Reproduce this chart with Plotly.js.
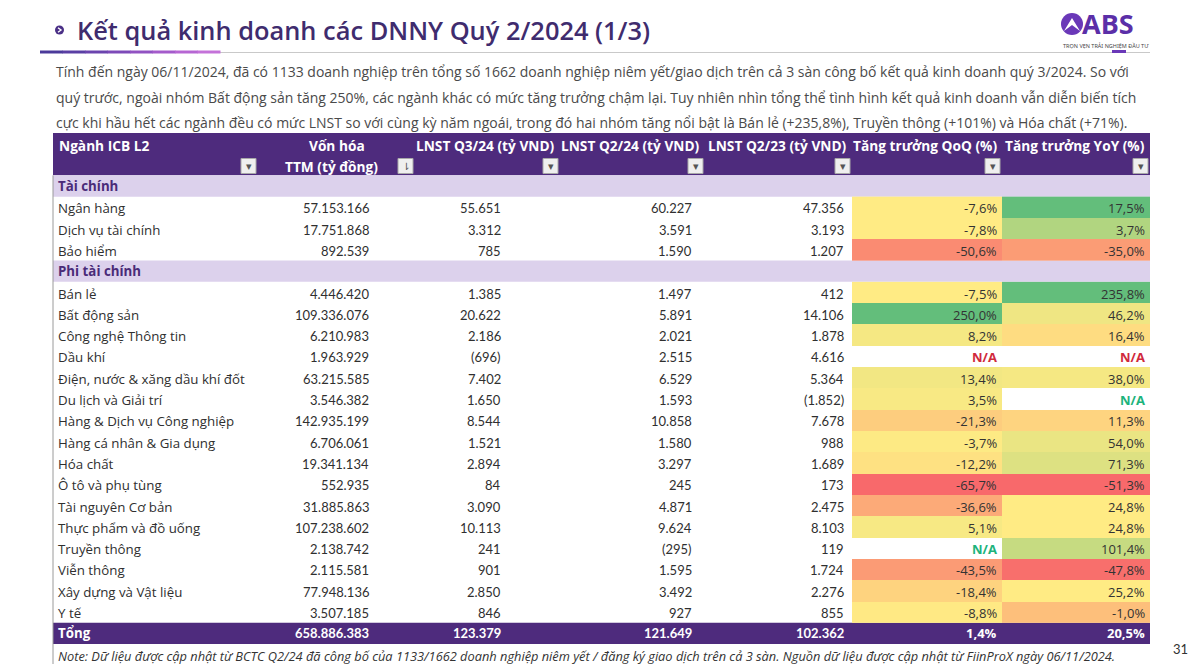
<!DOCTYPE html>
<html>
<head>
<meta charset="utf-8">
<script src="https://cdn.plot.ly/plotly-3.0.1.min.js"></script>
<style>
  html, body { margin: 0; padding: 0; background: #ffffff; }
  #chart { width: 1200px; height: 669px; }
</style>
</head>
<body>
<div id="chart"></div>
<script>
// ---------------- DATA ----------------
const sectionLabels = ["Tài chính", "Phi tài chính"];
const finSectors = ["Ngân hàng", "Dịch vụ tài chính", "Bảo hiểm"];
const nonFinSectors = [
  "Bán lẻ", "Bất động sản", "Công nghệ Thông tin", "Dầu khí",
  "Điện, nước & xăng dầu khí đốt", "Du lịch và Giải trí", "Hàng & Dịch vụ Công nghiệp",
  "Hàng cá nhân & Gia dụng", "Hóa chất", "Ô tô và phụ tùng", "Tài nguyên Cơ bản",
  "Thực phẩm và đồ uống", "Truyền thông", "Viễn thông", "Xây dựng và Vật liệu", "Y tế"
];
// values in order: finSectors then nonFinSectors
const marketCap = [57153166, 17751868, 892539,
  4446420, 109336076, 6210983, 1963929, 63215585, 3546382, 142935199, 6706061,
  19341134, 552935, 31885863, 107238602, 2138742, 2115581, 77948136, 3507185];
const npatQ324 = [55651, 3312, 785,
  1385, 20622, 2186, -696, 7402, 1650, 8544, 1521, 2894, 84, 3090, 10113, 241, 901, 2850, 846];
const npatQ224 = [60227, 3591, 1590,
  1497, 5891, 2021, 2515, 6529, 1593, 10858, 1580, 3297, 245, 4871, 9624, -295, 1595, 3492, 927];
const npatQ223 = [47356, 3193, 1207,
  412, 14106, 1878, 4616, 5364, -1852, 7678, 988, 1689, 173, 2475, 8103, 119, 1724, 2276, 855];
const growthQoQ = [-7.6, -7.8, -50.6,
  -7.5, 250.0, 8.2, null, 13.4, 3.5, -21.3, -3.7, -12.2, -65.7, -36.6, 5.1, null, -43.5, -18.4, -8.8];
const growthYoY = [17.5, 3.7, -35.0,
  235.8, 46.2, 16.4, null, 38.0, null, 11.3, 54.0, 71.3, -51.3, 24.8, 24.8, 101.4, -47.8, 25.2, -1.0];
const totalLabel = "Tổng";
const totals = { cap: 658886383, q324: 123379, q224: 121649, q223: 102362, qoq: 1.4, yoy: 20.5 };

const headers = ["Ngành ICB L2", "Vốn hóa", "LNST Q3/24 (tỷ VND)", "LNST Q2/24 (tỷ VND)",
                 "LNST Q2/23 (tỷ VND)", "Tăng trưởng QoQ (%)", "Tăng trưởng YoY (%)"];
const header2 = "TTM (tỷ đồng)";

const titleText = "Kết quả kinh doanh các DNNY Quý 2/2024 (1/3)";
const introLines = [
  "Tính đến ngày 06/11/2024, đã có 1133 doanh nghiệp trên tổng số 1662 doanh nghiệp niêm yết/giao dịch trên cả 3 sàn công bố kết quả kinh doanh quý 3/2024. So với",
  "quý trước, ngoài nhóm Bất động sản tăng 250%, các ngành khác có mức tăng trưởng chậm lại. Tuy nhiên nhìn tổng thể tình hình kết quả kinh doanh vẫn diễn biến tích",
  "cực khi hầu hết các ngành đều có mức LNST so với cùng kỳ năm ngoái, trong đó hai nhóm tăng nổi bật là Bán lẻ (+235,8%), Truyền thông (+101%) và Hóa chất (+71%)."
];
const noteText = "Note: Dữ liệu được cập nhật từ BCTC Q2/24 đã công bố của 1133/1662 doanh nghiệp niêm yết / đăng ký giao dịch trên cả 3 sàn. Nguồn dữ liệu được cập nhật từ FiinProX ngày 06/11/2024.";
const pageNumber = "31";

// ---------------- STYLE / LAYOUT ----------------
const W = 1200, H = 669;
const ROW0_PX = 186, ROW_H = 21.3;          // pixel centre of first row, row height
const yu = p => (p - ROW0_PX) / ROW_H;       // pixel -> row units
const py = p => 1 - p / H;                   // pixel -> paper y
const colEdges = [53, 258, 415, 560, 705, 852, 1002, 1150];
const valueRight = [null, 371, 503, 694, 846, 999, 1147];
const PURPLE = "#4E2B7D", LAVENDER = "#DCD1EC", TITLE_PURPLE = "#3F2C6E";
const RED = "#F8696B", YELLOW = "#FFEB84", GREEN = "#63BE7B";
const NA_RED = "#D02A3C", NA_GREEN = "#1DB37C";
const FONT = "Lato, 'Open Sans', sans-serif";
const OPEN = "'Open Sans', sans-serif";

// row indices
const finRows = finSectors.map((_, j) => 1 + j);
const nonFinRows = nonFinSectors.map((_, j) => 5 + j);
const sectionRows = [0, 4];
const totalRow = 5 + nonFinSectors.length;
const allRows = finRows.concat(nonFinRows);
const allNames = finSectors.concat(nonFinSectors);

const fmtNum = n => {
  const s = Math.abs(n).toString().replace(/\B(?=(\d{3})+(?!\d))/g, ".");
  return n < 0 ? "(" + s + ")" : s;
};
const fmtPct = v => v.toFixed(1).replace(".", ",") + "%";

const shapes = [], annotations = [], traces = [];

// header band
shapes.push({type: "rect", xref: "x", yref: "y", x0: colEdges[0], x1: colEdges[7],
  y0: yu(133), y1: -0.5, fillcolor: PURPLE, line: {width: 0}, layer: "below"});
// section bands
sectionRows.forEach(r => shapes.push({type: "rect", xref: "x", yref: "y", x0: colEdges[0], x1: colEdges[7],
  y0: r - 0.5, y1: r + 0.5, fillcolor: LAVENDER, line: {width: 0}, layer: "below"}));
// total band
shapes.push({type: "rect", xref: "x", yref: "y", x0: colEdges[0], x1: colEdges[7],
  y0: totalRow - 0.5, y1: totalRow + 0.5, fillcolor: PURPLE, line: {width: 0}, layer: "below"});
// left border
shapes.push({type: "line", xref: "x", yref: "y", x0: colEdges[0], x1: colEdges[0],
  y0: -0.5, y1: yu(664), line: {color: "#9A9A9A", width: 1}});

// filter buttons in header
for (let c = 0; c < 7; c++) {
  const bx1 = colEdges[c + 1] - 2, bx0 = bx1 - 15;
  shapes.push({type: "rect", xref: "x", yref: "y", x0: bx0, x1: bx1, y0: yu(158.5), y1: yu(173.5),
    fillcolor: "#EFEFEF", line: {color: "#A8A8A8", width: 1}});
  annotations.push({xref: "x", yref: "y", x: (bx0 + bx1) / 2, y: yu(166.5), text: c === 1 ? "⇂" : "▾",
    showarrow: false, font: {family: "DejaVu Sans", size: c === 1 ? 10 : 11, color: "#555"},
    xanchor: "center", yanchor: "middle"});
}

// header texts
const HF = {family: OPEN, size: 13.7, color: "#fff"};
annotations.push({xref: "x", yref: "y", x: 57, y: yu(145), text: "<b>" + headers[0] + "</b>",
  showarrow: false, xanchor: "left", yanchor: "middle", font: HF});
annotations.push({xref: "x", yref: "y", x: 337, y: yu(145), text: "<b>" + headers[1] + "</b>",
  showarrow: false, xanchor: "center", yanchor: "middle", font: HF});
annotations.push({xref: "x", yref: "y", x: 331, y: yu(166), text: "<b>" + header2 + "</b>",
  showarrow: false, xanchor: "center", yanchor: "middle", font: HF});
for (let c = 2; c < 7; c++) {
  annotations.push({xref: "x", yref: "y", x: colEdges[c + 1] - 3, y: yu(145), text: "<b>" + headers[c] + "</b>",
    showarrow: false, xanchor: "right", yanchor: "middle", font: HF});
}

// section labels
sectionRows.forEach((r, k) => annotations.push({xref: "x", yref: "y", x: 56, y: r, text: "<b>" + sectionLabels[k] + "</b>",
  showarrow: false, xanchor: "left", yanchor: "middle", font: {family: OPEN, size: 13.3, color: "#4A2B78"}}));

// body rows
const BODY = "#2f2f2f";
allRows.forEach((r, i) => {
  const cell = (c, txt, color, fam) => annotations.push({xref: "x", yref: "y", x: valueRight[c], y: r + 0.05,
    text: txt, showarrow: false, xanchor: "right", yanchor: "middle",
    font: {family: fam || FONT, size: 13, color: color || BODY}});
  annotations.push({xref: "x", yref: "y", x: 56, y: r + 0.05, text: allNames[i], showarrow: false,
    xanchor: "left", yanchor: "middle", font: {family: OPEN, size: 13.3, color: BODY}});
  cell(1, fmtNum(marketCap[i]));
  cell(2, fmtNum(npatQ324[i]));
  cell(3, fmtNum(npatQ224[i]));
  cell(4, fmtNum(npatQ223[i]));
  const naCol = npatQ324[i] < 0 ? NA_RED : NA_GREEN;
  if (growthQoQ[i] === null) cell(5, "<b>N/A</b>", naCol, OPEN);
  else cell(5, fmtPct(growthQoQ[i]), "#333", OPEN);
  if (growthYoY[i] === null) cell(6, "<b>N/A</b>", naCol, OPEN);
  else cell(6, fmtPct(growthYoY[i]), "#333", OPEN);
});

// total row
const totTexts = [fmtNum(totals.cap), fmtNum(totals.q324), fmtNum(totals.q224), fmtNum(totals.q223),
                  fmtPct(totals.qoq), fmtPct(totals.yoy)];
annotations.push({xref: "x", yref: "y", x: 56, y: totalRow, text: "<b>" + totalLabel + "</b>", showarrow: false,
  xanchor: "left", yanchor: "middle", font: {family: OPEN, size: 13.3, color: "#fff"}});
totTexts.forEach((t, k) => annotations.push({xref: "x", yref: "y", x: valueRight[k + 1], y: totalRow,
  text: "<b>" + t + "</b>", showarrow: false, xanchor: "right", yanchor: "middle",
  font: {family: k >= 4 ? OPEN : FONT, size: 13, color: "#fff"}}));

// colour-scale cells (heatmaps)
const median = arr => { const s = arr.filter(v => v !== null).sort((a, b) => a - b);
  const m = Math.floor(s.length / 2); return s.length % 2 ? s[m] : (s[m - 1] + s[m]) / 2; };
const minOf = arr => Math.min(...arr.filter(v => v !== null));
const maxOf = arr => Math.max(...arr.filter(v => v !== null));
function heat(x0, x1, rows, vals, lo, mid, hi) {
  const m = (mid - lo) / (hi - lo);
  traces.push({type: "heatmap", x: [x0, x1], y: rows.map(r => r - 0.5).concat([rows[rows.length - 1] + 0.5]),
    z: vals.map(v => [v]), zmin: lo, zmax: hi, showscale: false, hoverinfo: "skip",
    colorscale: [[0, RED], [m, YELLOW], [1, GREEN]]});
}
const nF = finSectors.length;
const qoqAll = growthQoQ;
heat(colEdges[5], colEdges[6], finRows, growthQoQ.slice(0, nF), minOf(qoqAll), median(qoqAll), maxOf(qoqAll));
heat(colEdges[5], colEdges[6], nonFinRows, growthQoQ.slice(nF), minOf(qoqAll), median(qoqAll), maxOf(qoqAll));
const yoyNon = growthYoY.slice(nF), yoyFin = growthYoY.slice(0, nF);
heat(colEdges[6], colEdges[7], finRows, yoyFin, minOf(growthYoY), -10, maxOf(yoyFin));
heat(colEdges[6], colEdges[7], nonFinRows, yoyNon, minOf(yoyNon), median(yoyNon), maxOf(yoyNon));

// ---------------- HEADER AREA (title, intro, logo) ----------------
// title bullet
shapes.push({type: "circle", xref: "x", yref: "paper", x0: 55, x1: 64, y0: py(34.5), y1: py(25.5),
  fillcolor: "#4A2F86", line: {width: 0}});
shapes.push({type: "path", xref: "x", yref: "paper",
  path: `M 58 ${py(27.8)} L 61 ${py(30)} L 58 ${py(32.2)}`, line: {color: "#fff", width: 1.4}});
annotations.push({xref: "x", yref: "paper", x: 75, y: py(30), text: titleText, showarrow: false,
  xanchor: "left", yanchor: "middle", font: {family: OPEN, size: 25.4, color: TITLE_PURPLE, weight: 600}});
// underline: gradient segment then grey rule
shapes.push({type: "line", xref: "x", yref: "paper", x0: 40, x1: 1150, y0: py(52.5), y1: py(52.5),
  line: {color: "#C9C9C9", width: 1}});
const gradStops = ["#4B3A9A", "#5A3FA4", "#6B44AE", "#7D4AB8", "#9152C2", "#A45BCB", "#B666D3", "#C472D9"];
gradStops.forEach((col, k) => {
  const a = 40 + k * (180 / gradStops.length), b = a + 180 / gradStops.length + 0.5;
  shapes.push({type: "line", xref: "x", yref: "paper", x0: a, x1: b, y0: py(52), y1: py(52),
    line: {color: col, width: 3}});
});
// logo
shapes.push({type: "circle", xref: "x", yref: "paper", x0: 1061, x1: 1083, y0: py(35), y1: py(13),
  fillcolor: "#6A38B8", line: {width: 0}});
shapes.push({type: "path", xref: "x", yref: "paper",
  path: `M 1064 ${py(31)} L 1072 ${py(18)} L 1080 ${py(31)} L 1072 ${py(25)} Z`, fillcolor: "#fff", line: {width: 0}});
annotations.push({xref: "x", yref: "paper", x: 1080, y: py(24), text: "<b>ABS</b>", showarrow: false,
  xanchor: "left", yanchor: "middle", font: {family: OPEN, size: 27, color: "#5B2FA8"}});
annotations.push({xref: "x", yref: "paper", x: 1106, y: py(46), text: "TRỌN VẸN TRẢI NGHIỆM ĐẦU TƯ", showarrow: false,
  xanchor: "center", yanchor: "middle", font: {family: "'Noto Sans', sans-serif", size: 5.5, color: "#444"}});
shapes.push({type: "line", xref: "x", yref: "paper", x0: 1112, x1: 1126, y0: py(51.5), y1: py(51.5),
  line: {color: "#6A38B8", width: 3}});

// intro paragraph
introLines.forEach((t, k) => annotations.push({xref: "x", yref: "paper", x: 54, y: py(72 + 25 * k), text: t,
  showarrow: false, xanchor: "left", yanchor: "middle", font: {family: OPEN, size: 14.0, color: "#4a4a4a"}}));

// note + page number
annotations.push({xref: "x", yref: "paper", x: 56, y: py(655.5), text: "<i>" + noteText + "</i>", showarrow: false,
  xanchor: "left", yanchor: "middle", font: {family: OPEN, size: 12.8, color: "#333"}});
annotations.push({xref: "x", yref: "paper", x: 1190, y: py(649), text: pageNumber, showarrow: false,
  xanchor: "right", yanchor: "middle", font: {family: FONT, size: 13, color: "#333"}});

const layout = {
  width: W, height: H, margin: {l: 0, r: 0, t: 0, b: 0, pad: 0},
  paper_bgcolor: "#ffffff", plot_bgcolor: "#ffffff", showlegend: false,
  xaxis: {range: [0, W], visible: false, fixedrange: true},
  yaxis: {range: [yu(H), yu(0)], visible: false, fixedrange: true},
  shapes: shapes, annotations: annotations
};
Plotly.newPlot("chart", traces, layout, {displayModeBar: false, staticPlot: true});
</script>
</body>
</html>
